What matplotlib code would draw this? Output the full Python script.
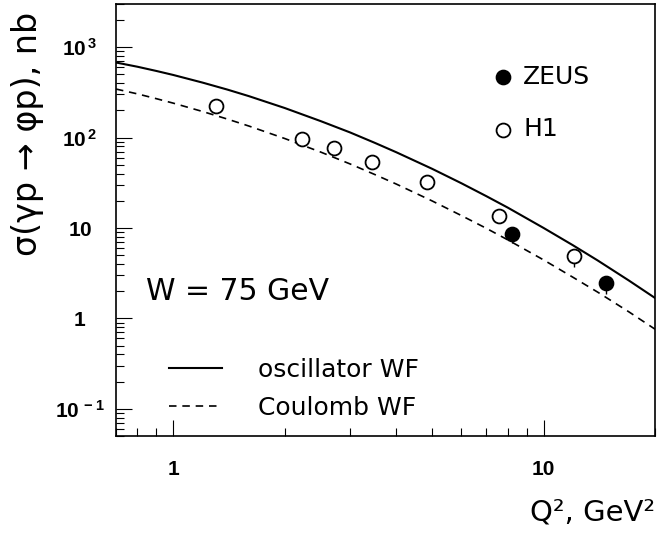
import numpy as np
import matplotlib.pyplot as plt
from matplotlib.ticker import FixedLocator, FixedFormatter, LogLocator, NullFormatter

plt.rcParams['font.family'] = 'DejaVu Sans'
plt.rcParams['mathtext.fontset'] = 'custom'
plt.rcParams['mathtext.rm'] = 'Liberation Sans'
plt.rcParams['mathtext.bf'] = 'Liberation Sans:bold'

# model curves, sigma(gamma p -> phi p) vs Q^2 at W = 75 GeV
q2_grid = [0.7, 0.8, 0.9, 1.0, 1.2, 1.4, 1.6, 2.0, 2.5, 3.0, 3.5,
           4.0, 5.0, 6.0, 7.0, 8.0, 10, 12, 14, 17, 20]
sig_osc = [676, 607, 545, 492, 405, 339, 287, 212, 152, 114, 87.4,
           68.8, 45.1, 31.2, 22.5, 16.8, 10.0, 6.44, 4.37, 2.62, 1.68]
sig_coul = [344, 304, 269, 240, 194, 160, 134, 97.5, 69.1, 51.1, 39.0,
            30.6, 19.9, 13.7, 9.92, 7.39, 4.43, 2.85, 1.95, 1.18, 0.759]

# data points
q2_h1 = [1.30, 2.22, 2.72, 3.44, 4.85, 7.56, 12.1]
sig_h1 = [221, 96.2, 77.2, 53.6, 31.9, 13.4, 4.94]
err_h1 = [0, 0, 0, 0, 0, 0, 1.2]

q2_zeus = [8.22, 14.7]
sig_zeus = [8.58, 2.47]
err_zeus = [1.7, 0.6]

yticks = [0.1, 1, 10, 100, 1000]
ytick_labels = [r'$\mathbf{10^{\,-1}}$', r'$\mathbf{1}$', r'$\mathbf{10}$',
                r'$\mathbf{10^{\,2}}$', r'$\mathbf{10^{\,3}}$']
xticks = [1, 10]
xtick_labels = ['1', '10']

fig = plt.figure(figsize=(6.59, 5.33), dpi=100)
ax = fig.add_axes([0.176, 0.182, 0.818, 0.8105])

l1, = ax.plot(q2_grid, sig_osc, color='black', lw=1.5, label='oscillator WF')
l2, = ax.plot(q2_grid, sig_coul, color='black', lw=1.2, ls=(0, (4.5, 3.5)),
              label='Coulomb WF')

ax.errorbar(q2_h1, sig_h1, yerr=[err_h1, [0]*len(err_h1)], fmt='none',
            ecolor='black', elinewidth=1.0, capsize=0)
h1 = ax.scatter(q2_h1, sig_h1, s=100, facecolor='white', edgecolor='black',
                linewidths=1.3, zorder=3)
ax.errorbar(q2_zeus, sig_zeus, yerr=[err_zeus, [0]*len(err_zeus)], fmt='none',
            ecolor='black', elinewidth=1.0, capsize=0)
zeus = ax.scatter(q2_zeus, sig_zeus, s=100, facecolor='black', edgecolor='black',
                  linewidths=1.3, zorder=3)

ax.set_xscale('log')
ax.set_yscale('log')
ax.set_xlim(0.7, 20)
ax.set_ylim(0.05, 3000)

ax.xaxis.set_major_locator(FixedLocator(xticks))
ax.xaxis.set_major_formatter(FixedFormatter(xtick_labels))
ax.xaxis.set_minor_locator(LogLocator(base=10, subs=np.arange(2, 10)))
ax.xaxis.set_minor_formatter(NullFormatter())
ax.yaxis.set_major_locator(FixedLocator(yticks))
ax.yaxis.set_major_formatter(FixedFormatter(ytick_labels))
ax.yaxis.set_minor_locator(LogLocator(base=10, subs=np.arange(2, 10)))
ax.yaxis.set_minor_formatter(NullFormatter())

ax.tick_params(which='both', direction='in', top=False, right=False, width=0.8)
ax.tick_params(which='major', length=11.5)
ax.tick_params(which='minor', length=5.8)
ax.tick_params(axis='x', which='major', pad=17, labelsize=15)
ax.tick_params(axis='y', which='major', pad=26, labelsize=15)
for lab in ax.get_xticklabels():
    lab.set_fontweight('bold')
    lab.set_family('Liberation Sans')
for lab in ax.get_yticklabels():
    lab.set_ha('center')
for sp in ax.spines.values():
    sp.set_linewidth(1.2)

ax.set_ylabel('σ(γp → φp), nb', fontsize=24)
ax.yaxis.set_label_coords(-0.133, 0.70)
ax.set_xlabel('Q², GeV²', fontsize=21, ha='right')
ax.xaxis.set_label_coords(1.0, -0.145)

ax.text(0.055, 0.335, 'W = 75 GeV', transform=ax.transAxes, fontsize=21.5, va='center')

leg1 = ax.legend(handles=[l1, l2], loc='lower left', bbox_to_anchor=(0.08, 0.014),
                 frameon=False, fontsize=18, handlelength=2.12, handletextpad=1.44,
                 labelspacing=0.56, borderaxespad=0)
ax.add_artist(leg1)
ax.legend(handles=[zeus, h1], labels=['ZEUS', 'H1'], loc='upper left',
          bbox_to_anchor=(0.6815, 0.883), frameon=False, fontsize=18,
          handlelength=0.8, handletextpad=0.4, labelspacing=1.15,
          borderaxespad=0, scatterpoints=1)

fig.savefig('out.png', dpi=100)
